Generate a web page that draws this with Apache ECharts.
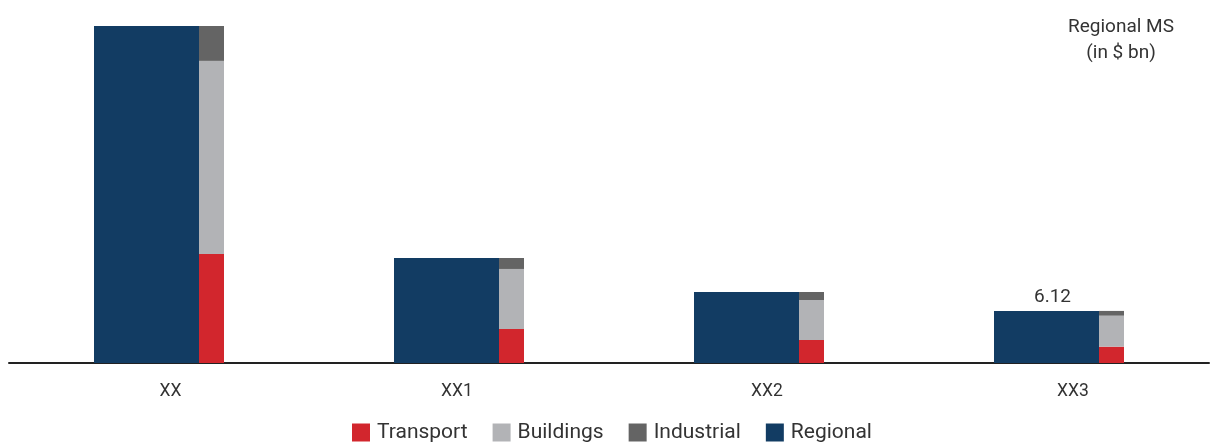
<!DOCTYPE html>
<html>
<head>
<meta charset="utf-8">
<script src="https://cdn.jsdelivr.net/npm/echarts@6/dist/echarts.min.js"></script>
<style>
  html, body { margin: 0; padding: 0; background: #fff; }
  #chart { width: 1211px; height: 446px; }
</style>
</head>
<body>
<div id="chart"></div>
<script>
const categories = ['XX', 'XX1', 'XX2', 'XX3'];
const regional = [39.6, 12.34, 8.34, 6.12];
const transport = [12.8, 4.0, 2.7, 1.92];
const buildings = [22.7, 7.05, 4.7, 3.64];
const industrial = [4.1, 1.29, 0.94, 0.56];
const labelIndex = 3; // only XX3 carries a value label

const chart = echarts.init(document.getElementById('chart'));
const font = 'Roboto, "Noto Sans", sans-serif';

// the source labels sit a little off the band centres
const labelPad = [[0, 0, 0, 23], [0, 4, 0, 0], [0, 0, 0, 16], [0, 0, 0, 28]];

const option = {
  animation: false,
  textStyle: { fontFamily: font },
  title: {
    text: 'Regional MS\n(in $ bn)',
    left: 1116,
    top: 9,
    textAlign: 'center',
    textStyle: { fontSize: 19, fontWeight: 'normal', color: '#333', lineHeight: 26, fontFamily: font, align: 'center' }
  },
  legend: {
    data: ['Transport', 'Buildings', 'Industrial', 'Regional'],
    bottom: 3,
    left: 352,
    padding: 0,
    icon: 'rect',
    itemWidth: 18,
    itemHeight: 18,
    itemGap: 25,
    textStyle: { fontSize: 21, color: '#333', fontFamily: font, padding: [0, 0, 0, 2] }
  },
  grid: { left: 9, right: 2, top: 26, bottom: 83 },
  xAxis: {
    type: 'category',
    data: categories.map((c, i) => ({ value: c, textStyle: { padding: labelPad[i] } })),
    axisTick: { show: false },
    axisLine: { lineStyle: { color: '#222', width: 2 } },
    axisLabel: { margin: 20, fontSize: 17.5, color: '#333', fontFamily: font }
  },
  yAxis: {
    type: 'value',
    min: 0,
    max: 39.6,
    show: false,
    splitLine: { show: false }
  },
  series: [
    {
      name: 'Regional',
      type: 'bar',
      barWidth: 105,
      barGap: '0%',
      itemStyle: { color: '#123c63' },
      data: regional.map((v, i) => i === labelIndex
        ? { value: v, label: { show: true, position: 'top', fontSize: 19, color: '#333', distance: 4, offset: [6, 0] } }
        : v)
    },
    {
      name: 'Transport',
      type: 'bar',
      stack: 'seg',
      barWidth: 25,
      itemStyle: { color: '#d2262d' },
      data: transport
    },
    {
      name: 'Buildings',
      type: 'bar',
      stack: 'seg',
      barWidth: 25,
      itemStyle: { color: '#b2b3b6' },
      data: buildings
    },
    {
      name: 'Industrial',
      type: 'bar',
      stack: 'seg',
      barWidth: 25,
      itemStyle: { color: '#646464' },
      data: industrial
    }
  ]
};

chart.setOption(option);
</script>
</body>
</html>
